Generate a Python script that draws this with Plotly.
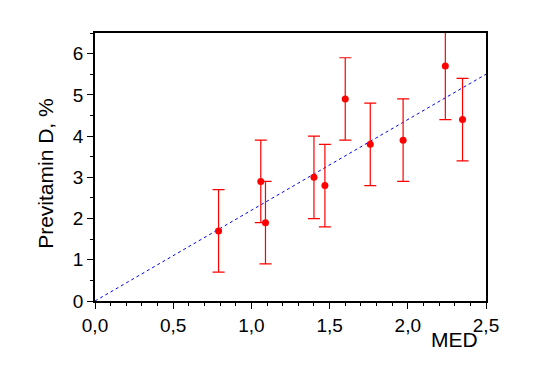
import plotly.graph_objects as go

med = [0.79, 1.06, 1.09, 1.40, 1.47, 1.60, 1.76, 1.97, 2.24, 2.35]
previtamin = [1.7, 2.9, 1.9, 3.0, 2.8, 4.9, 3.8, 3.9, 5.7, 4.4]
err = [1.0, 1.0, 1.0, 1.0, 1.0, 1.0, 1.0, 1.0, 1.3, 1.0]
fit_x = [0.0, 2.5]
fit_y = [0.0, 5.5]

fig = go.Figure()
fig.add_trace(go.Scatter(x=fit_x, y=fit_y, mode="lines",
                         line=dict(color="blue", width=1, dash="dot"),
                         showlegend=False, cliponaxis=True))
fig.add_trace(go.Scatter(x=med, y=previtamin, mode="markers",
                         marker=dict(color="red", size=7),
                         error_y=dict(type="data", array=err, color="red",
                                      thickness=1.2, width=6),
                         showlegend=False))

fig.update_layout(
    width=535, height=388,
    margin=dict(l=87, r=57, t=25, b=95),
    paper_bgcolor="white", plot_bgcolor="white",
    separators=", ",
    font=dict(family="Liberation Sans, Arial", size=19, color="black"),
    xaxis=dict(range=[0, 2.5], dtick=0.5, tick0=0, tickformat=".1f",
               showgrid=False, zeroline=False, showline=True, mirror=True,
               linecolor="black", linewidth=1.5, ticks="outside", ticklen=6,
               tickcolor="black",
               minor=dict(dtick=0.1, ticks="outside", ticklen=3, tickcolor="black", showgrid=False)),
    yaxis=dict(range=[0, 6.5], dtick=1, tick0=0,
               showgrid=False, zeroline=False, showline=True, mirror=True,
               linecolor="black", linewidth=1.5, ticks="outside", ticklen=6,
               tickcolor="black",
               minor=dict(dtick=0.5, ticks="outside", ticklen=3, tickcolor="black", showgrid=False)),
    annotations=[
        dict(text="Previtamin D, %", xref="paper", yref="paper", x=-0.125, y=0.475,
             xanchor="center", yanchor="middle", textangle=-90, showarrow=False,
             font=dict(size=21)),
        dict(text="MED", xref="paper", yref="paper", x=0.985, y=-0.095,
             xanchor="right", yanchor="top", showarrow=False, font=dict(size=21)),
    ],
)
fig.write_html("out.html")
